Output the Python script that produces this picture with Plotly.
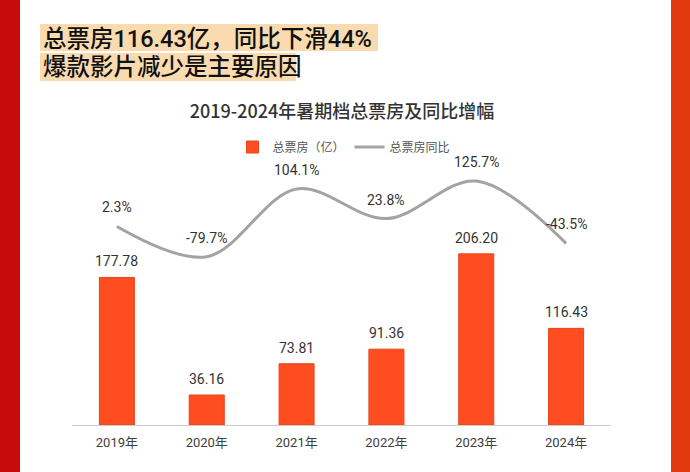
import plotly.graph_objects as go

# ---- data ----
years = ["2019年", "2020年", "2021年", "2022年", "2023年", "2024年"]
box_office = [177.78, 36.16, 73.81, 91.36, 206.20, 116.43]   # 亿
yoy_pct = [2.3, -79.7, 104.1, 23.8, 125.7, -43.5]            # %

headline_1 = "总票房116.43亿，同比下滑44%"
headline_2 = "爆款影片减少是主要原因"
chart_title = "2019-2024年暑期档总票房及同比增幅"

# ---- geometry helpers ----
W, H = 690, 472
ML, MR, MT, MB = 72, 79, 150, 47
PW, PH = W - ML - MR, H - MT - MB

def px_x(px):
    return (px - ML) / PW

def px_y(py):
    return (H - MB - py) / PH

FONT = "Roboto, 'Noto Sans CJK SC', sans-serif"
CJK = "'Noto Sans CJK SC', Roboto, sans-serif"

fig = go.Figure()
fig.add_trace(go.Bar(
    x=years, y=box_office, name="总票房（亿）",
    marker=dict(color="#ff4d22", line=dict(color="#e64519", width=1)),
    hoverinfo="skip",
))
fig.add_trace(go.Scatter(
    x=years, y=yoy_pct, name="总票房同比", yaxis="y2", mode="lines",
    line=dict(color="#a3a3a3", width=3, shape="spline", smoothing=1.0),
    hoverinfo="skip",
))

annotations = []
for yr, v in zip(years, box_office):
    annotations.append(dict(x=yr, y=v, xref="x", yref="y", text=f"{v:.2f}",
                            showarrow=False, yshift=16,
                            font=dict(family=FONT, size=14, color="#333333")))
for yr, v in zip(years, yoy_pct):
    annotations.append(dict(x=yr, y=v, xref="x", yref="y2", text=f"{v}%",
                            showarrow=False, yshift=19,
                            font=dict(family=FONT, size=14, color="#333333")))

# headline text
annotations.append(dict(x=px_x(41), y=px_y(39), xref="paper", yref="paper",
                        xanchor="left", yanchor="middle", text=headline_1, showarrow=False,
                        font=dict(family=FONT, size=23.5, color="#111111", weight=500)))
annotations.append(dict(x=px_x(41), y=px_y(67), xref="paper", yref="paper",
                        xanchor="left", yanchor="middle", text=headline_2, showarrow=False,
                        font=dict(family=FONT, size=23.5, color="#111111", weight=500)))

shapes = [
    # left / right red borders
    dict(type="rect", xref="paper", yref="paper", x0=px_x(0), x1=px_x(20),
         y0=px_y(H), y1=px_y(0), fillcolor="#c80a0c", line=dict(width=0), layer="below"),
    dict(type="rect", xref="paper", yref="paper", x0=px_x(671), x1=px_x(W),
         y0=px_y(H), y1=px_y(0), fillcolor="#e03a0e", line=dict(width=0), layer="below"),
    # headline highlights
    dict(type="rect", xref="paper", yref="paper", x0=px_x(40), x1=px_x(378),
         y0=px_y(51), y1=px_y(24), fillcolor="#fadbb0", line=dict(width=0), layer="below"),
    dict(type="rect", xref="paper", yref="paper", x0=px_x(40), x1=px_x(296),
         y0=px_y(81), y1=px_y(53), fillcolor="#fadbb0", line=dict(width=0), layer="below"),
]

fig.update_layout(
    width=W, height=H,
    margin=dict(l=ML, r=MR, t=MT, b=MB),
    paper_bgcolor="white", plot_bgcolor="white",
    title=dict(text=chart_title, x=342 / W, xanchor="center", xref="container",
               y=1 - 112 / H, yanchor="middle",
               font=dict(family=CJK, size=18, color="#333333", weight=500)),
    bargap=0.61,
    showlegend=True,
    legend=dict(orientation="h", x=px_x(344), xanchor="center", y=px_y(147), yanchor="middle",
                font=dict(family=CJK, size=12, color="#555555"), bgcolor="rgba(0,0,0,0)",
                itemwidth=30),
    xaxis=dict(showline=True, linecolor="#cccccc", linewidth=1, showgrid=False,
               ticks="outside", ticklen=5, tickcolor="rgba(0,0,0,0)",
               tickfont=dict(family=FONT, size=13, color="#404040"), fixedrange=True),
    yaxis=dict(visible=False, range=[0, PH / 0.83], showgrid=False, fixedrange=True),
    yaxis2=dict(visible=False, overlaying="y", range=[-536.7, 210], showgrid=False, fixedrange=True),
    annotations=annotations,
    shapes=shapes,
)

fig.write_html("out.html", config={"displayModeBar": False},
               post_script="document.body.style.margin='0';document.body.style.overflow='hidden';")
